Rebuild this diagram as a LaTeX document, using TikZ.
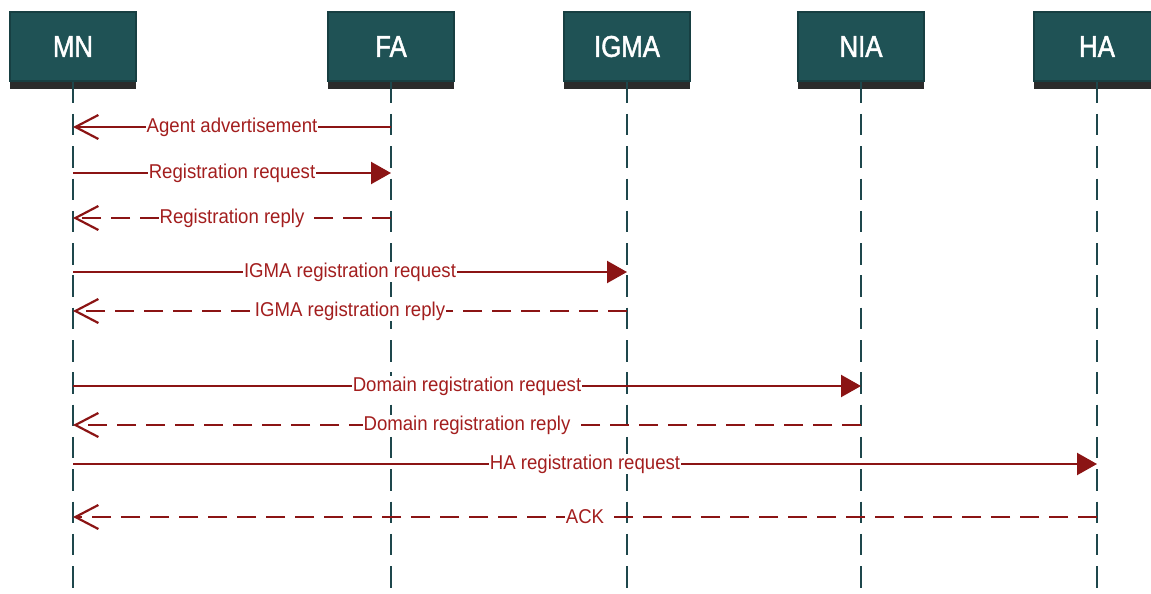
\documentclass[tikz,border=0pt]{standalone}
\usepackage{fontspec}
\setmainfont{Liberation Sans}
\newfontfamily\labfont{Liberation Sans}[FakeStretch=0.93]
\newfontfamily\hdrfont{Liberation Sans}[FakeStretch=0.86,FakeBold=1.6]
\usetikzlibrary{arrows.meta,shadows}
\definecolor{boxfill}{HTML}{1F5255}
\definecolor{boxline}{HTML}{173F42}
\definecolor{shadowgray}{HTML}{2B2B2B}
\definecolor{lifecol}{HTML}{1E474C}
\definecolor{msgred}{HTML}{8B1414}
\definecolor{labred}{HTML}{A31E1E}
\begin{document}
\begin{tikzpicture}[x=1pt,y=-1pt,
 actor/.style={fill=boxfill, draw=boxline, line width=1.2pt, minimum width=126pt, minimum height=69pt, inner sep=0pt, text=white,
   font=\hdrfont\fontsize{30}{36}\selectfont,
   drop shadow={shadow xshift=0pt, shadow yshift=-8pt, fill=shadowgray, opacity=1}},
 life/.style={draw=lifecol, line width=2pt, dash pattern=on 21.5pt off 10.8pt},
 msg/.style={draw=msgred, line width=2.2pt},
 req/.style={msg, -{Triangle[length=20pt,width=22pt]}},
 rep/.style={msg, dash pattern=on 19pt off 10pt, -{Straight Barb[length=23pt,width=24pt]}},
 lab/.style={fill=white, inner sep=1pt, text=labred, font=\labfont\fontsize{20}{24}\selectfont}
]
\useasboundingbox (0,0) rectangle (1151,594);
\clip (0,0) rectangle (1151,594);

% actors
\node[actor] (MN)   at (73,46.5)   {MN};
\node[actor] (FA)   at (391,46.5)  {FA};
\node[actor] (IGMA) at (627,46.5)  {IGMA};
\node[actor] (NIA)  at (861,46.5)  {NIA};
\node[actor] (HA)   at (1097,46.5) {HA};

% lifeline ends
\coordinate (MNe)   at (73,588);
\coordinate (FAe)   at (391,588);
\coordinate (IGMAe) at (627,588);
\coordinate (NIAe)  at (861,588);
\coordinate (HAe)   at (1097,588);
\draw[life] (MN.south) -- (MNe);
\draw[life] (FA.south) -- (FAe);
\draw[life] (IGMA.south) -- (IGMAe);
\draw[life] (NIA.south) -- (NIAe);
\draw[life] (HA.south) -- (HAe);

% message end points
\coordinate (mn1) at (73,127);  \coordinate (fa1) at (391,127);
\coordinate (mn2) at (73,173);  \coordinate (fa2) at (391,173);
\coordinate (mn3) at (73,218);  \coordinate (fa3) at (391,218);
\coordinate (mn4) at (73,272);  \coordinate (ig4) at (627,272);
\coordinate (mn5) at (73,311);  \coordinate (ig5) at (627,311);
\coordinate (mn6) at (73,386);  \coordinate (ni6) at (861,386);
\coordinate (mn7) at (73,425);  \coordinate (ni7) at (861,425);
\coordinate (mn8) at (73,464);  \coordinate (ha8) at (1097,464);
\coordinate (mn9) at (73,517);  \coordinate (ha9) at (1097,517);

% messages
\draw[msg, -{Straight Barb[length=23pt,width=24pt]}] (fa1) -- node[lab] (l1) {Agent advertisement} (mn1);
\draw[req] (mn2) -- node[lab] (l2) {Registration request} (fa2);
\draw[rep] (fa3) -- node[lab] (l3) {Registration reply} (mn3);
\draw[req] (mn4) -- node[lab] (l4) {IGMA registration request} (ig4);
\draw[rep] (ig5) -- node[lab] (l5) {IGMA registration reply} (mn5);
\draw[req] (mn6) -- node[lab] (l6) {Domain registration request} (ni6);
\draw[rep] (ni7) -- node[lab] (l7) {Domain registration reply} (mn7);
\draw[req] (mn8) -- node[lab] (l8) {HA registration request} (ha8);
\draw[rep] (ha9) -- node[lab] (l9) {ACK} (mn9);
\end{tikzpicture}
\end{document}
